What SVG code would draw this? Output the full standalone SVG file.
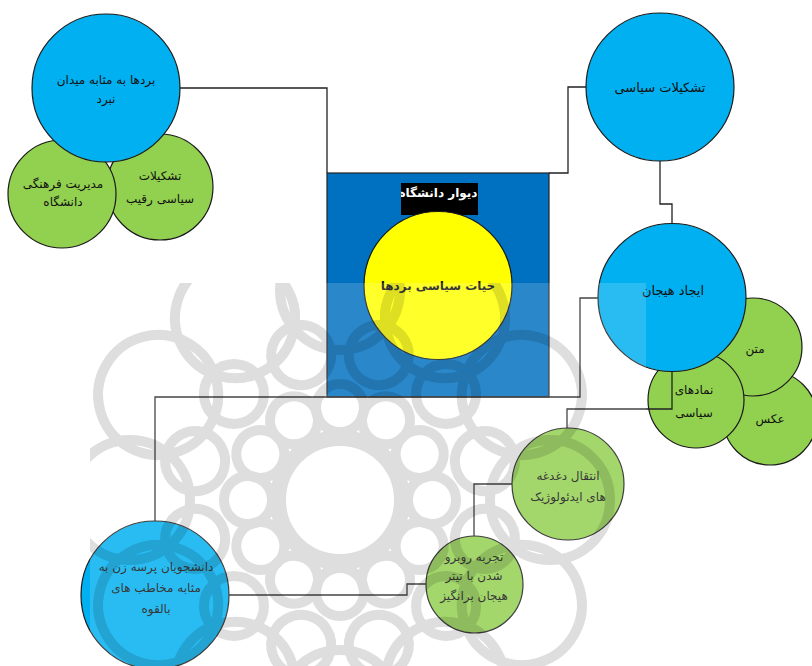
<svg xmlns="http://www.w3.org/2000/svg" width="812" height="666" viewBox="0 0 812 666">
<style>
.blue{fill:#00B0F0;stroke:#1a1a1a;stroke-width:1.2}
.green{fill:#92D050;stroke:#1a1a1a;stroke-width:1.2}
.t{font-family:"DejaVu Sans",sans-serif;font-size:12px;fill:#111;text-anchor:middle}
.conn{fill:none;stroke:#222;stroke-width:1.3}
</style>
<defs>
<clipPath id="lbl"><rect x="401" y="183" width="77" height="32"/></clipPath>
<clipPath id="wmclip"><rect x="90" y="283" width="556" height="383"/></clipPath>
<circle id="ring1" cx="92" cy="0" r="24"/>
<circle id="ring2" cx="150" cy="0" r="30" transform="rotate(15)"/>
<circle id="ring3" cx="210" cy="0" r="60"/>
</defs>
<rect width="812" height="666" fill="#fff"/>

<g id="node-bg-left1"><circle class="green" cx="160" cy="187" r="53"/><text class="t"><tspan x="160" y="180">تشکیلات</tspan><tspan x="160" y="203">سیاسی  رقیب</tspan></text></g>
<g id="node-bg-left2"><circle class="green" cx="62" cy="194" r="54"/><text class="t"><tspan x="63" y="188">مدیریت فرهنگی</tspan><tspan x="63" y="206">دانشگاه</tspan></text></g>
<g id="node-fields"><circle class="blue" cx="106" cy="88" r="74"/><text class="t"><tspan x="106" y="84">بردها به مثابه میدان</tspan><tspan x="106" y="103">نبرد</tspan></text></g>

<g id="node-wall"><rect x="327" y="173" width="222" height="224" fill="#0070C0" stroke="#222" stroke-width="1.2"/>
<rect x="401" y="183" width="77" height="32" fill="#000"/>
<text clip-path="url(#lbl)" x="438" y="197" style="font-family:'DejaVu Sans',sans-serif;font-size:12px;font-weight:bold;fill:#fff;text-anchor:middle">دیوار دانشگاه</text></g>
<g id="node-life"><circle cx="438" cy="285.5" r="74" fill="#FFFF00" stroke="#1a1a1a" stroke-width="1.2"/><text class="t" x="438" y="290" style="font-weight:bold">حیات سیاسی بردها</text></g>

<g id="node-org"><circle class="blue" cx="660" cy="87" r="74"/><text class="t" x="660" y="92" style="font-size:13px">تشکیلات سیاسی</text></g>

<g id="node-photo"><circle class="green" cx="770" cy="418" r="47"/><text class="t" x="770" y="423">عکس</text></g>
<g id="node-text"><circle class="green" cx="753" cy="347" r="49"/><text class="t" x="755" y="353">متن</text></g>
<g id="node-symbols"><circle class="green" cx="696" cy="400" r="48"/><text class="t"><tspan x="694" y="394">نمادهای</tspan><tspan x="694" y="417">سیاسی</tspan></text></g>
<g id="node-excite"><circle class="blue" cx="672" cy="297.5" r="74"/><text class="t" x="673" y="295" style="font-size:13px">ایجاد هیجان</text></g>

<g id="node-ideology"><circle class="green" cx="568" cy="484" r="56"/><text class="t"><tspan x="568" y="480">انتقال دغدغه</tspan><tspan x="568" y="501">های ایدئولوژیک</tspan></text></g>
<g id="node-experience"><circle class="green" cx="474.5" cy="584.5" r="48.5"/><text class="t"><tspan x="474" y="561">تجربه روبرو</tspan><tspan x="474" y="580">شدن با تیتر</tspan><tspan x="474" y="600">هیجان برانگیز</tspan></text></g>
<g id="node-students"><circle class="blue" cx="155" cy="595" r="74"/><text class="t"><tspan x="156" y="571">دانشجویان پرسه زن به</tspan><tspan x="156" y="592">مثابه  مخاطب های</tspan><tspan x="156" y="613">بالقوه</tspan></text></g>

<g id="connectors">
<polyline class="conn" points="180,88 327,88 327,173"/>
<polyline class="conn" points="549,173 568,173 568,87 586,87"/>
<polyline class="conn" points="660,161 660,204 672,204 672,223"/>
<polyline class="conn" points="598,298 580,298 580,397 155,397 155,521"/>
<polyline class="conn" points="672,372 672,409 567,409 567,428"/>
<polyline class="conn" points="229,595 407,595 407,584 426,584"/>
<polyline class="conn" points="474,536 474,484 512,484"/>
</g>

<g id="watermark" clip-path="url(#wmclip)">
<rect x="90" y="283" width="556" height="383" fill="#fff" opacity="0.16"/>
<g opacity="0.13" fill="none" stroke="#000" stroke-width="10" transform="translate(340,500)">
<use href="#ring1"/><use href="#ring1" transform="rotate(30)"/><use href="#ring1" transform="rotate(60)"/><use href="#ring1" transform="rotate(90)"/><use href="#ring1" transform="rotate(120)"/><use href="#ring1" transform="rotate(150)"/><use href="#ring1" transform="rotate(180)"/><use href="#ring1" transform="rotate(210)"/><use href="#ring1" transform="rotate(240)"/><use href="#ring1" transform="rotate(270)"/><use href="#ring1" transform="rotate(300)"/><use href="#ring1" transform="rotate(330)"/>
<use href="#ring2"/><use href="#ring2" transform="rotate(30)"/><use href="#ring2" transform="rotate(60)"/><use href="#ring2" transform="rotate(90)"/><use href="#ring2" transform="rotate(120)"/><use href="#ring2" transform="rotate(150)"/><use href="#ring2" transform="rotate(180)"/><use href="#ring2" transform="rotate(210)"/><use href="#ring2" transform="rotate(240)"/><use href="#ring2" transform="rotate(270)"/><use href="#ring2" transform="rotate(300)"/><use href="#ring2" transform="rotate(330)"/>
<use href="#ring3"/><use href="#ring3" transform="rotate(30)"/><use href="#ring3" transform="rotate(60)"/><use href="#ring3" transform="rotate(90)"/><use href="#ring3" transform="rotate(120)"/><use href="#ring3" transform="rotate(150)"/><use href="#ring3" transform="rotate(180)"/><use href="#ring3" transform="rotate(210)"/><use href="#ring3" transform="rotate(240)"/><use href="#ring3" transform="rotate(270)"/><use href="#ring3" transform="rotate(300)"/><use href="#ring3" transform="rotate(330)"/>
<circle cx="0" cy="0" r="62" stroke-width="16"/>
</g>
</g>
</svg>
